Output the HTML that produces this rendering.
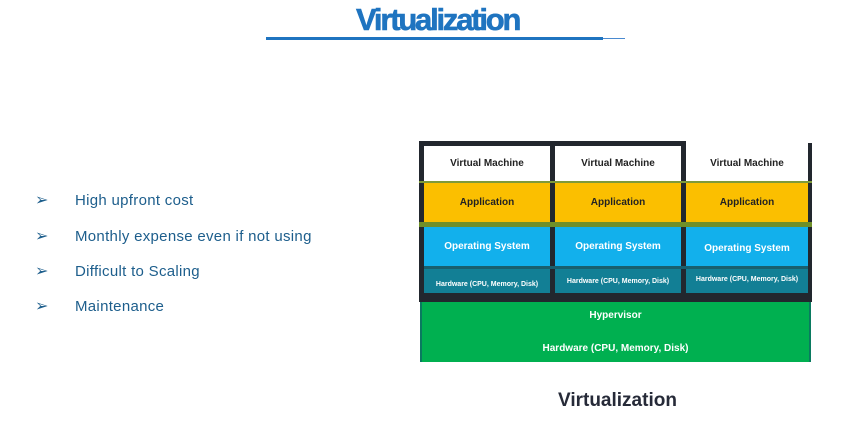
<!DOCTYPE html>
<html><head><meta charset="utf-8"><style>
*{margin:0;padding:0;box-sizing:border-box}
body{width:865px;height:434px;background:#fff;position:relative;overflow:hidden;font-family:"Liberation Sans",sans-serif}
.a{position:absolute}
.c{position:absolute;display:flex;align-items:center;justify-content:center;font-weight:bold;text-align:center}
.b{position:absolute;left:35px;color:#1d5e8c;font-size:16px}
.t{position:absolute;left:75px;color:#1d5e8c;font-size:15px;letter-spacing:0.3px}
</style></head><body>
<div class="a" style="left:356px;top:2px;font-size:31px;font-weight:bold;color:#1f74c0;letter-spacing:-2.2px;-webkit-text-stroke:0.6px #1f74c0">Virtualization</div>
<div class="a" style="left:266px;top:37px;width:337px;height:3px;background:#1f74c0"></div>
<div class="a" style="left:603px;top:38px;width:22px;height:1px;background:#4a8ad0"></div>

<div class="b" style="top:190px">➢</div><div class="t" style="top:192px">High upfront cost</div>
<div class="b" style="top:226px">➢</div><div class="t" style="top:228px">Monthly expense even if not using</div>
<div class="b" style="top:261px">➢</div><div class="t" style="top:263px">Difficult to Scaling</div>
<div class="b" style="top:296px">➢</div><div class="t" style="top:298px">Maintenance</div>

<!-- frame -->
<div class="a" style="left:419px;top:141px;width:265px;height:5px;background:#22272e"></div>
<div class="a" style="left:419px;top:141px;width:5px;height:161px;background:#22272e"></div>
<div class="a" style="left:550px;top:141px;width:5px;height:155px;background:#22272e"></div>
<div class="a" style="left:681px;top:141px;width:5px;height:155px;background:#22272e"></div>
<div class="a" style="left:808px;top:143px;width:4px;height:159px;background:#22272e"></div>
<div class="a" style="left:419px;top:293px;width:393px;height:9px;background:#22272e"></div>
<div class="a" style="left:419px;top:222px;width:393px;height:5px;background:#6f8f2a"></div>
<div class="a" style="left:419px;top:181px;width:393px;height:2px;background:#7f9a3a"></div>

<!-- col1 -->
<div class="c" style="left:424px;top:146px;width:126px;height:35px;background:#fff;font-size:10px;color:#222">Virtual Machine</div>
<div class="c" style="left:424px;top:183px;width:126px;height:39px;background:#fbbf00;font-size:10px;color:#222">Application</div>
<div class="c" style="left:424px;top:227px;width:126px;height:39px;background:#12b0ec;font-size:10px;color:#fff">Operating System</div>
<div class="a" style="left:424px;top:266px;width:384px;height:3px;background:#185f6e"></div>
<div class="c" style="left:424px;top:269px;width:126px;height:24px;background:#127f95;font-size:7px;color:#fff;padding-top:6px">Hardware (CPU, Memory, Disk)</div>
<!-- col2 -->
<div class="c" style="left:555px;top:146px;width:126px;height:35px;background:#fff;font-size:10px;color:#222">Virtual Machine</div>
<div class="c" style="left:555px;top:183px;width:126px;height:39px;background:#fbbf00;font-size:10px;color:#222">Application</div>
<div class="c" style="left:555px;top:227px;width:126px;height:39px;background:#12b0ec;font-size:10px;color:#fff">Operating System</div>
<div class="c" style="left:555px;top:269px;width:126px;height:24px;background:#127f95;font-size:7px;color:#fff">Hardware (CPU, Memory, Disk)</div>
<!-- col3 -->
<div class="c" style="left:686px;top:146px;width:122px;height:35px;background:#fff;font-size:10px;color:#222">Virtual Machine</div>
<div class="c" style="left:686px;top:183px;width:122px;height:39px;background:#fbbf00;font-size:10px;color:#222">Application</div>
<div class="c" style="left:686px;top:227px;width:122px;height:39px;background:#12b0ec;font-size:10px;color:#fff;padding-top:3px">Operating System</div>
<div class="c" style="left:686px;top:269px;width:122px;height:24px;background:#127f95;font-size:7px;color:#fff;padding-bottom:4px">Hardware (CPU, Memory, Disk)</div>

<!-- green -->
<div class="a" style="left:420px;top:302px;width:391px;height:60px;background:#00b050;border-left:2px solid #0a7a60;border-right:2px solid #0a7a60"></div>
<div class="c" style="left:420px;top:307px;width:391px;height:16px;font-size:10px;color:#fff">Hypervisor</div>
<div class="c" style="left:420px;top:340px;width:391px;height:16px;font-size:10px;color:#fff">Hardware (CPU, Memory, Disk)</div>

<div class="a" style="left:558px;top:390px;font-size:19px;font-weight:bold;color:#262a38">Virtualization</div>
</body></html>
